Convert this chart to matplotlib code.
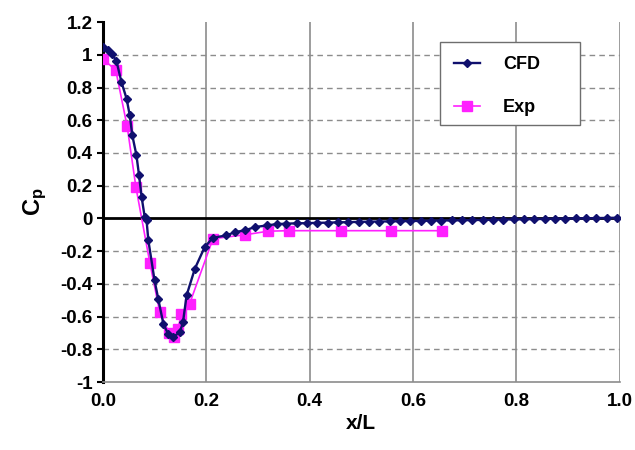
import numpy as np
import matplotlib.pyplot as plt
from matplotlib.patches import Rectangle

plt.rcParams['font.family'] = ['Liberation Sans', 'DejaVu Sans']
plt.rcParams['font.weight'] = 'bold'
plt.rcParams['mathtext.fontset'] = 'custom'
plt.rcParams['mathtext.bf'] = 'Liberation Sans:bold'
plt.rcParams['mathtext.rm'] = 'Liberation Sans:bold'

# CFD curve
cfd_x = [0.0, 0.01, 0.017, 0.026, 0.036, 0.046, 0.052, 0.057, 0.065, 0.070,
         0.075, 0.081, 0.0845, 0.088, 0.100, 0.107, 0.117, 0.126, 0.136, 0.149,
         0.155, 0.162, 0.178, 0.197, 0.213, 0.239, 0.255, 0.275, 0.294, 0.317,
         0.336, 0.355, 0.375, 0.395, 0.415, 0.435, 0.455, 0.475, 0.495, 0.515,
         0.535, 0.555, 0.575, 0.595, 0.615, 0.635, 0.655, 0.675, 0.695, 0.715,
         0.735, 0.755, 0.775, 0.795, 0.815, 0.835, 0.855, 0.875, 0.895, 0.915,
         0.935, 0.955, 0.975, 0.995]
cfd_cp = [1.045, 1.03, 1.005, 0.965, 0.833, 0.73, 0.63, 0.507, 0.385, 0.263,
          0.13, 0.008, -0.012, -0.134, -0.379, -0.49, -0.644, -0.705, -0.725, -0.695,
          -0.634, -0.47, -0.307, -0.175, -0.118, -0.104, -0.084, -0.073, -0.053, -0.043,
          -0.035, -0.032, -0.030, -0.029, -0.027, -0.026, -0.024, -0.023, -0.021, -0.020,
          -0.019, -0.018, -0.017, -0.016, -0.015, -0.014, -0.013, -0.012, -0.011, -0.010,
          -0.009, -0.008, -0.007, -0.006, -0.005, -0.004, -0.003, -0.002, -0.001, 0.0,
          0.001, 0.002, 0.003, 0.004]

# experiment
exp_x = [0.0, 0.025, 0.047, 0.064, 0.091, 0.110, 0.128, 0.137, 0.145, 0.152,
         0.168, 0.213, 0.275, 0.32, 0.36, 0.46, 0.557, 0.656]
exp_cp = [0.976, 0.905, 0.562, 0.19, -0.273, -0.573, -0.70, -0.725, -0.675, -0.583,
          -0.52, -0.124, -0.10, -0.078, -0.075, -0.075, -0.075, -0.075]

xticks = [0.0, 0.2, 0.4, 0.6, 0.8, 1.0]
xlabels = ['0.0', '0.2', '0.4', '0.6', '0.8', '1.0']
yticks = [-1, -0.8, -0.6, -0.4, -0.2, 0, 0.2, 0.4, 0.6, 0.8, 1, 1.2]
ylabels = ['-1', '-0.8', '-0.6', '-0.4', '-0.2', '0', '0.2', '0.4', '0.6', '0.8', '1', '1.2']

fig = plt.figure(figsize=(6.35, 4.5), dpi=100)
ax = fig.add_axes([0.162, 0.151, 0.814, 0.80])

ax.set_xlim(0, 1.0)
ax.set_ylim(-1, 1.2)
ax.set_xticks(xticks)
ax.set_xticklabels(xlabels, fontweight='bold', fontsize=13.5)
ax.set_yticks(yticks)
ax.set_yticklabels(ylabels, fontweight='bold', fontsize=13.5)

for v in xticks[1:]:
    ax.axvline(v, color='#8c8c8c', lw=1.2, zorder=1)
for v in yticks[1:-1]:
    if v != 0:
        ax.axhline(v, color='#8c8c8c', lw=1.0, ls=(0, (4, 3)), zorder=1)
ax.axhline(0, color='black', lw=2, zorder=2)

ax.plot(cfd_x, cfd_cp, color='#10106e', marker='D', markersize=4.5, lw=1.7,
        label='CFD', zorder=4)
ax.plot(exp_x, exp_cp, color='#ff20ff', marker='s', markersize=7, lw=1.2,
        label='Exp', zorder=3)

ax.spines['top'].set_visible(False)
ax.spines['right'].set_visible(False)
ax.spines['bottom'].set_color('#8c8c8c')
ax.spines['bottom'].set_linewidth(1.2)
ax.spines['left'].set_color('black')
ax.spines['left'].set_linewidth(2.2)

ax.tick_params(axis='x', length=0, pad=8)
ax.tick_params(axis='y', length=4, width=1.5, direction='out')

ax.set_xlabel('x/L', fontsize=15, fontweight='bold', labelpad=3)
ax.set_ylabel(r'$\mathbf{C_p}$', fontsize=17, labelpad=8)

# legend box drawn separately, entries placed inside it
ax.add_patch(Rectangle((0.652, 0.714), 0.271, 0.230, transform=ax.transAxes,
                       facecolor='white', edgecolor='#6e6e6e', lw=1.0, zorder=5))
leg = ax.legend(loc='center left', bbox_to_anchor=(0.68, 0.822),
                prop={'weight': 'bold', 'size': 13},
                frameon=False, borderpad=0, labelspacing=1.45,
                handlelength=1.4, handletextpad=1.3, borderaxespad=0)
leg.set_zorder(6)

fig.savefig('out.png', dpi=100)
